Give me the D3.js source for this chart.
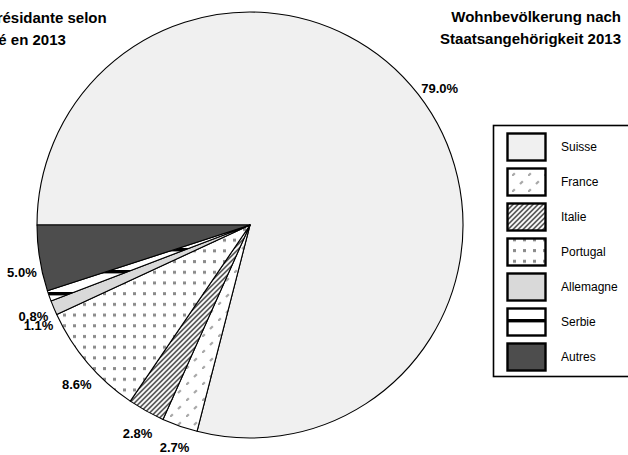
<!DOCTYPE html>
<html>
<head>
<meta charset="utf-8">
<script src="https://cdn.jsdelivr.net/npm/d3@7"></script>
<style>
  html, body { margin: 0; padding: 0; background: #fff; }
  svg { display: block; font-family: "Liberation Sans", Arial, sans-serif; }
</style>
</head>
<body>
<div id="chart"></div>
<script>
// ---------- data ----------
const categories = ['Suisse', 'France', 'Italie', 'Portugal', 'Allemagne', 'Serbie', 'Autres'];
const shares = [79.0, 2.7, 2.8, 8.6, 1.1, 0.8, 5.0];
const titleFr = ['Population résidante selon', 'la nationalité en 2013'];
const titleDe = ['Wohnbevölkerung nach', 'Staatsangehörigkeit 2013'];

const width = 628, height = 455;
const cx = 250, cy = 225, radius = 213;

const svg = d3.select('#chart').append('svg')
  .attr('width', width)
  .attr('height', height);

// ---------- patterns ----------
const defs = svg.append('defs');

function serbiePattern(id, yOff) {
  const p = defs.append('pattern').attr('id', id)
    .attr('patternUnits', 'userSpaceOnUse')
    .attr('x', 0).attr('y', yOff).attr('width', 40).attr('height', 22);
  p.append('rect').attr('width', 40).attr('height', 22).attr('fill', '#fff');
  p.append('rect').attr('y', 0).attr('width', 40).attr('height', 3.4).attr('fill', '#000');
}
serbiePattern('pat-serbie', 1);       // pie (relative to centre)
serbiePattern('pat-serbie-leg', 11);  // legend (absolute)

const france = defs.append('pattern').attr('id', 'pat-france')
  .attr('patternUnits', 'userSpaceOnUse').attr('width', 16).attr('height', 16);
france.append('rect').attr('width', 16).attr('height', 16).attr('fill', '#fff');
france.append('path').attr('d', 'M0,16 L16,0')
  .attr('stroke', '#a8a8a8').attr('stroke-width', 2.2)
  .attr('stroke-dasharray', '4,7.31');

const italie = defs.append('pattern').attr('id', 'pat-italie')
  .attr('patternUnits', 'userSpaceOnUse').attr('width', 5).attr('height', 5);
italie.append('rect').attr('width', 5).attr('height', 5).attr('fill', '#5c5c5c');
italie.append('path').attr('d', 'M-1,6 L6,-1 M-1,1 L1,-1 M4,6 L6,4')
  .attr('stroke', '#fff').attr('stroke-width', 1.8);

const portugal = defs.append('pattern').attr('id', 'pat-portugal')
  .attr('patternUnits', 'userSpaceOnUse').attr('width', 10).attr('height', 10.7);
portugal.append('rect').attr('width', 10).attr('height', 10.7).attr('fill', '#fff');
portugal.append('rect').attr('x', 3).attr('y', 3).attr('width', 3).attr('height', 3).attr('fill', '#8a8a8a');

const fills = {
  Suisse: '#f0f0f0', France: 'url(#pat-france)', Italie: 'url(#pat-italie)',
  Portugal: 'url(#pat-portugal)', Allemagne: '#d9d9d9', Serbie: 'url(#pat-serbie)',
  Autres: '#4d4d4d'
};
const legendFills = Object.assign({}, fills, { Serbie: 'url(#pat-serbie-leg)' });

// ---------- pie ----------
const pieData = d3.pie()
  .sort(null)
  .value(d => d.v)
  .startAngle(-Math.PI / 2)
  .endAngle(3 * Math.PI / 2)(categories.map((c, i) => ({ c, v: shares[i] })));

const arc = d3.arc().innerRadius(0).outerRadius(radius);
const labelArc = d3.arc().innerRadius(radius + 22).outerRadius(radius + 22);

const pieG = svg.append('g').attr('transform', `translate(${cx},${cy})`);
pieG.selectAll('path')
  .data(pieData)
  .join('path')
  .attr('d', arc)
  .attr('fill', d => fills[d.data.c])
  .attr('stroke', '#000')
  .attr('stroke-width', 1.1)
  .attr('stroke-linejoin', 'round');

// small nudges to sit labels like the original
const nudge = {
  Suisse: [4, 7], France: [2, 1], Italie: [2, 3], Portugal: [6, 7],
  Allemagne: [5, 9], Serbie: [5, 13], Autres: [4, 11]
};
const fmt = d3.format('.1f');
pieG.selectAll('text')
  .data(pieData)
  .join('text')
  .attr('x', d => labelArc.centroid(d)[0] + nudge[d.data.c][0])
  .attr('y', d => labelArc.centroid(d)[1] + nudge[d.data.c][1])
  .attr('dy', '0.35em')
  .attr('text-anchor', 'middle')
  .attr('font-size', 13)
  .attr('font-weight', 'bold')
  .text(d => fmt(d.data.v) + '%');

// ---------- titles ----------
svg.append('g').selectAll('text')
  .data(titleFr)
  .join('text')
  .attr('x', -85)
  .attr('y', (d, i) => 22.5 + i * 22.5)
  .attr('font-size', 15)
  .attr('font-weight', 'bold')
  .text(d => d);

svg.append('g').selectAll('text')
  .data(titleDe)
  .join('text')
  .attr('x', 621)
  .attr('y', (d, i) => 22 + i * 21.5)
  .attr('text-anchor', 'end')
  .attr('font-size', 15)
  .attr('font-weight', 'bold')
  .text(d => d);

// ---------- legend ----------
const legend = svg.append('g');
legend.append('rect')
  .attr('x', 493.5).attr('y', 125.5)
  .attr('width', 160).attr('height', 251)
  .attr('fill', '#fff').attr('stroke', '#000').attr('stroke-width', 1.6);

const rowY = d3.scalePoint().domain(categories).range([133, 343]);

const item = legend.selectAll('g.item')
  .data(categories)
  .join('g')
  .attr('class', 'item');

item.append('rect')
  .attr('x', 507.5).attr('y', d => rowY(d) + 0.5)
  .attr('width', 38).attr('height', 27)
  .attr('fill', d => legendFills[d])
  .attr('stroke', '#000').attr('stroke-width', 2.4);

item.append('text')
  .attr('x', 561)
  .attr('y', d => rowY(d) + 14)
  .attr('dy', '0.35em')
  .attr('font-size', 12)
  .text(d => d);
</script>
</body>
</html>
